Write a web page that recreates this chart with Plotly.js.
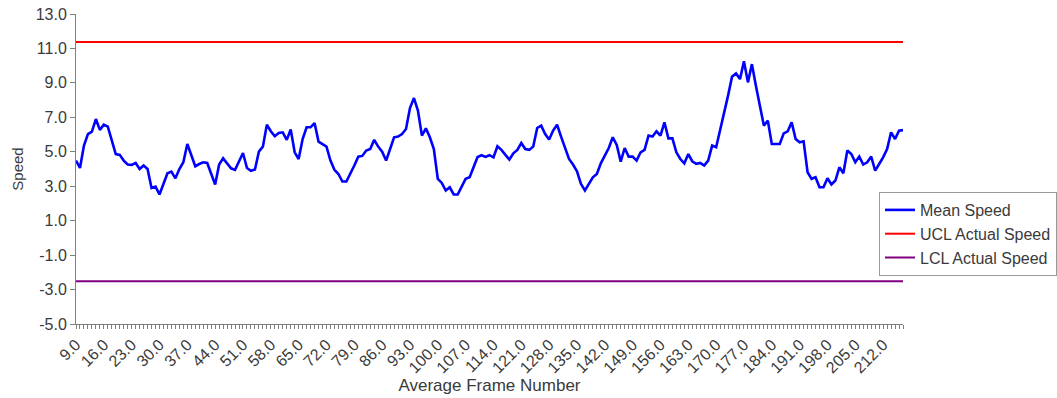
<!DOCTYPE html>
<html>
<head>
<meta charset="utf-8">
<script src="https://cdn.plot.ly/plotly-3.0.1.min.js"></script>
<style>
html,body{margin:0;padding:0;background:#fff;}
#chart{width:1057px;height:398px;}
</style>
</head>
<body>
<div id="chart"></div>
<script>
// Average frame numbers (categories)
var firstFrame = 9;
var meanSpeed = [
4.49,4.06,5.36,6.03,6.17,6.90,6.27,6.57,6.46,5.65,
4.87,4.82,4.49,4.26,4.24,4.35,4.00,4.20,4.00,2.90,
2.98,2.52,3.14,3.75,3.85,3.46,4.00,4.39,5.45,4.78,
4.16,4.29,4.39,4.35,3.75,3.10,4.26,4.62,4.33,4.04,
3.95,4.49,4.93,4.06,3.90,3.97,5.01,5.30,6.57,6.19,
5.90,6.09,6.13,5.69,6.29,4.97,4.58,5.74,6.42,6.42,
6.67,5.59,5.45,5.30,4.49,3.95,3.71,3.27,3.27,3.71,
4.20,4.72,4.76,5.07,5.16,5.69,5.30,5.01,4.49,5.16,
5.84,5.88,6.03,6.32,7.54,8.12,7.39,5.94,6.36,5.84,
5.16,3.43,3.19,2.75,2.94,2.52,2.52,2.98,3.43,3.52,
4.10,4.70,4.80,4.70,4.80,4.68,5.32,5.11,4.82,4.55,
4.91,5.11,5.51,5.16,5.11,5.30,6.38,6.52,6.03,5.71,
6.23,6.57,5.88,5.20,4.58,4.26,3.87,3.14,2.75,3.14,
3.52,3.71,4.33,4.78,5.22,5.84,5.40,4.43,5.22,4.72,
4.72,4.49,4.97,5.11,5.94,5.88,6.19,5.94,6.71,5.78,
5.78,4.97,4.58,4.33,4.87,4.45,4.30,4.35,4.20,4.49,
5.36,5.26,6.23,7.19,8.26,9.36,9.55,9.22,10.25,9.03,
10.09,8.84,7.68,6.52,6.81,5.45,5.45,5.45,6.07,6.19,
6.71,5.74,5.55,5.61,3.81,3.43,3.52,2.94,2.94,3.46,
3.10,3.33,4.10,3.75,5.07,4.87,4.39,4.72,4.26,4.39,
4.72,3.91,4.29,4.68,5.16,6.13,5.74,6.23,6.26
];
var uclValue = 11.37;
var lclValue = -2.52;
var seriesNames = ["Mean Speed", "UCL Actual Speed", "LCL Actual Speed"];
var yTickValues = [-5, -3, -1, 1, 3, 5, 7, 9, 11, 13];
var xTickStep = 7;

var frames = meanSpeed.map(function(_, i){ return firstFrame + i; });
var ucl = frames.map(function(){ return uclValue; });
var lcl = frames.map(function(){ return lclValue; });
var xTickValues = frames.filter(function(f){ return (f - firstFrame) % xTickStep === 0; });
var xTickText = xTickValues.map(function(v){ return v.toFixed(1); });
var yTickText = yTickValues.map(function(v){ return v.toFixed(1); });

var font = "Liberation Sans, Arial, sans-serif";
var txt = "#3a3a3a";

var traces = [
  {x: frames, y: meanSpeed, type: "scatter", mode: "lines", name: seriesNames[0],
   line: {color: "#0000ff", width: 2.6}},
  {x: frames, y: ucl, type: "scatter", mode: "lines", name: seriesNames[1],
   line: {color: "#ff0000", width: 2}},
  {x: frames, y: lcl, type: "scatter", mode: "lines", name: seriesNames[2],
   line: {color: "#800080", width: 2}}
];

var layout = {
  width: 1057, height: 398,
  margin: {l: 76, r: 154, t: 14, b: 74, pad: 0, autoexpand: false},
  paper_bgcolor: "#fff", plot_bgcolor: "#fff",
  font: {family: font, size: 15, color: txt},
  showlegend: true,
  xaxis: {
    range: [frames[0], frames[frames.length - 1]],
    tickvals: xTickValues, ticktext: xTickText,
    tickangle: -45,
    ticks: "outside", ticklen: 4, tickcolor: "#808080", tickwidth: 1,
    minor: {dtick: 1, tick0: firstFrame, ticks: "outside", ticklen: 4, tickcolor: "#808080", tickwidth: 1, showgrid: false},
    showline: true, linecolor: "#808080", linewidth: 1,
    showgrid: false, zeroline: false,
    tickfont: {family: font, size: 16, color: txt},
    title: {text: "Average Frame Number", font: {family: font, size: 17, color: txt}, standoff: 3},
    automargin: false
  },
  yaxis: {
    range: [-5, 13],
    tickvals: yTickValues, ticktext: yTickText,
    ticks: "outside", ticklen: 5, tickcolor: "#808080", tickwidth: 1,
    showline: true, linecolor: "#808080", linewidth: 1,
    showgrid: false, zeroline: false,
    tickfont: {family: font, size: 16, color: txt},
    title: {text: "Speed", font: {family: font, size: 15, color: txt}, standoff: 8},
    automargin: false
  },
  legend: {
    xref: "container", yref: "container",
    x: 879/1057, xanchor: "left",
    y: 1 - 192/398, yanchor: "top",
    bgcolor: "#fff", bordercolor: "#9a9a9a", borderwidth: 1,
    font: {family: font, size: 16, color: txt},
    tracegroupgap: 0
  }
};

Plotly.newPlot("chart", traces, layout, {displayModeBar: false, staticPlot: true});
</script>
</body>
</html>
